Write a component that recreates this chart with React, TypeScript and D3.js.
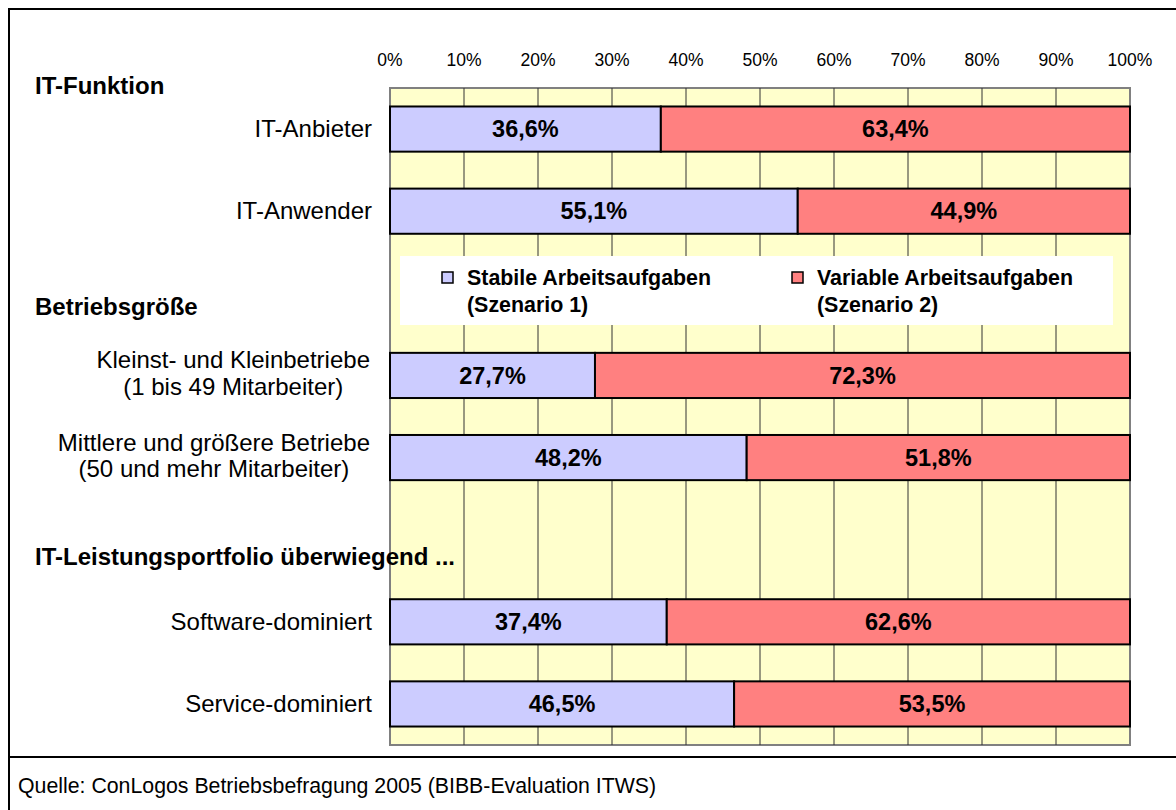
import React from 'react';
import * as d3 from 'd3';

// rows of the chart, '' = empty slot used for group titles / legend
const rowKeys = ['anbieter', 'anwender', 'gap1', 'klein', 'mittel', 'gap2', 'software', 'service'];
const rowLabels = [
  'IT-Anbieter',
  'IT-Anwender',
  '',
  'Kleinst- und Kleinbetriebe\n(1 bis 49 Mitarbeiter)',
  'Mittlere und größere Betriebe\n(50 und mehr Mitarbeiter)',
  '',
  'Software-dominiert',
  'Service-dominiert',
];
const stabile = [36.6, 55.1, null, 27.7, 48.2, null, 37.4, 46.5];
const variabel = [63.4, 44.9, null, 72.3, 51.8, null, 62.6, 53.5];

const groupTitles = ['IT-Funktion', 'Betriebsgröße', 'IT-Leistungsportfolio überwiegend ...'];
const groupTitleY = [94, 315, 565];

const seriesNames = [
  ['Stabile Arbeitsaufgaben', '(Szenario 1)'],
  ['Variable Arbeitsaufgaben', '(Szenario 2)'],
];
const seriesColors = ['#CCCCFF', '#FF8080'];
const tickValues = [0, 10, 20, 30, 40, 50, 60, 70, 80, 90, 100];
const source = 'Quelle: ConLogos Betriebsbefragung 2005 (BIBB-Evaluation ITWS)';

const W = 1176;
const H = 810;
const plot = { left: 390, right: 1130, top: 88, bottom: 745 };
const font = '"Liberation Sans", Arial, sans-serif';
const catSize = 24;

const fmt = (v: number) => d3.format('.1f')(v).replace('.', ',') + '%';

// rough text width for centering multi-line labels
let ctx: CanvasRenderingContext2D | null = null;
const textWidth = (s: string, size: number) => {
  if (!ctx) ctx = document.createElement('canvas').getContext('2d');
  if (!ctx) return s.length * size * 0.5;
  ctx.font = `${size}px ${font}`;
  return ctx.measureText(s).width;
};

export default function App() {
  const x = d3.scaleLinear().domain([0, 100]).range([plot.left, plot.right]);
  const y = d3.scaleBand().domain(rowKeys).range([plot.top, plot.bottom]).paddingInner(0.45).paddingOuter(0.225);

  const bh = y.bandwidth();

  return (
    <svg width={W} height={H} style={{ position: 'absolute', left: 0, top: 0 }} fontFamily={font}>
      {/* outer frame */}
      <line x1={9} y1={8} x2={9} y2={H} stroke="#000" strokeWidth={2} />
      <line x1={8} y1={9} x2={W} y2={9} stroke="#000" strokeWidth={2} />
      <line x1={8} y1={757} x2={W} y2={757} stroke="#000" strokeWidth={2} />

      {/* plot area */}
      <rect x={plot.left} y={plot.top} width={plot.right - plot.left} height={plot.bottom - plot.top}
        fill="#FFFFCC" stroke="#808080" strokeWidth={2} />
      {tickValues.slice(1, -1).map((t) => (
        <line key={t} x1={x(t)} x2={x(t)} y1={plot.top} y2={plot.bottom} stroke="#333" strokeWidth={1} />
      ))}
      {tickValues.map((t) => (
        <text key={t} x={x(t)} y={66} textAnchor="middle" fontSize={17.5} fill="#000">{t}%</text>
      ))}

      {/* legend */}
      <rect x={400} y={256} width={713} height={69} fill="#fff" />
      {seriesNames.map((s, i) => {
        const lx = i === 0 ? 442 : 792;
        return (
          <g key={i}>
            <rect x={lx} y={272} width={11} height={11} fill={seriesColors[i]} stroke="#000" strokeWidth={1.5} />
            <text x={lx + 25} y={285} fontSize={21.4} fontWeight="bold">{s[0]}</text>
            <text x={lx + 25} y={312} fontSize={21.4} fontWeight="bold">{s[1]}</text>
          </g>
        );
      })}

      {/* bars */}
      {rowKeys.map((k, i) => {
        const a = stabile[i];
        const b = variabel[i];
        if (a == null || b == null) return null;
        const y0 = y(k)!;
        const cy = y0 + bh / 2;
        return (
          <g key={k}>
            <rect x={x(0)} y={y0} width={x(a) - x(0)} height={bh} fill={seriesColors[0]} stroke="#000" strokeWidth={2} />
            <rect x={x(a)} y={y0} width={x(a + b) - x(a)} height={bh} fill={seriesColors[1]} stroke="#000" strokeWidth={2} />
            <text x={(x(0) + x(a)) / 2} y={cy + 8.3} textAnchor="middle" fontSize={23.5} fontWeight="bold">{fmt(a)}</text>
            <text x={(x(a) + x(a + b)) / 2} y={cy + 8.3} textAnchor="middle" fontSize={23.5} fontWeight="bold">{fmt(b)}</text>
          </g>
        );
      })}

      {/* category labels: block right-aligned, lines centred */}
      {rowKeys.map((k, i) => {
        const lines = rowLabels[i] ? rowLabels[i].split('\n') : [];
        const cy = y(k)! + bh / 2;
        if (lines.length === 1) {
          return <text key={k} x={372} y={cy + 8.2} textAnchor="end" fontSize={catSize}>{lines[0]}</text>;
        }
        const maxW = d3.max(lines, (l) => textWidth(l, catSize)) || 0;
        const cx = 370 - maxW / 2;
        return lines.map((l, j) => (
          <text key={k + j} x={cx} y={cy + 6.3 + (j - (lines.length - 1) / 2) * 26.5} textAnchor="middle" fontSize={catSize}>{l}</text>
        ));
      })}

      {/* group titles */}
      {groupTitles.map((g, i) => (
        <text key={g} x={35} y={groupTitleY[i]} fontSize={24} fontWeight="bold">{g}</text>
      ))}

      <text x={18} y={793} fontSize={21.3}>{source}</text>
    </svg>
  );
}
